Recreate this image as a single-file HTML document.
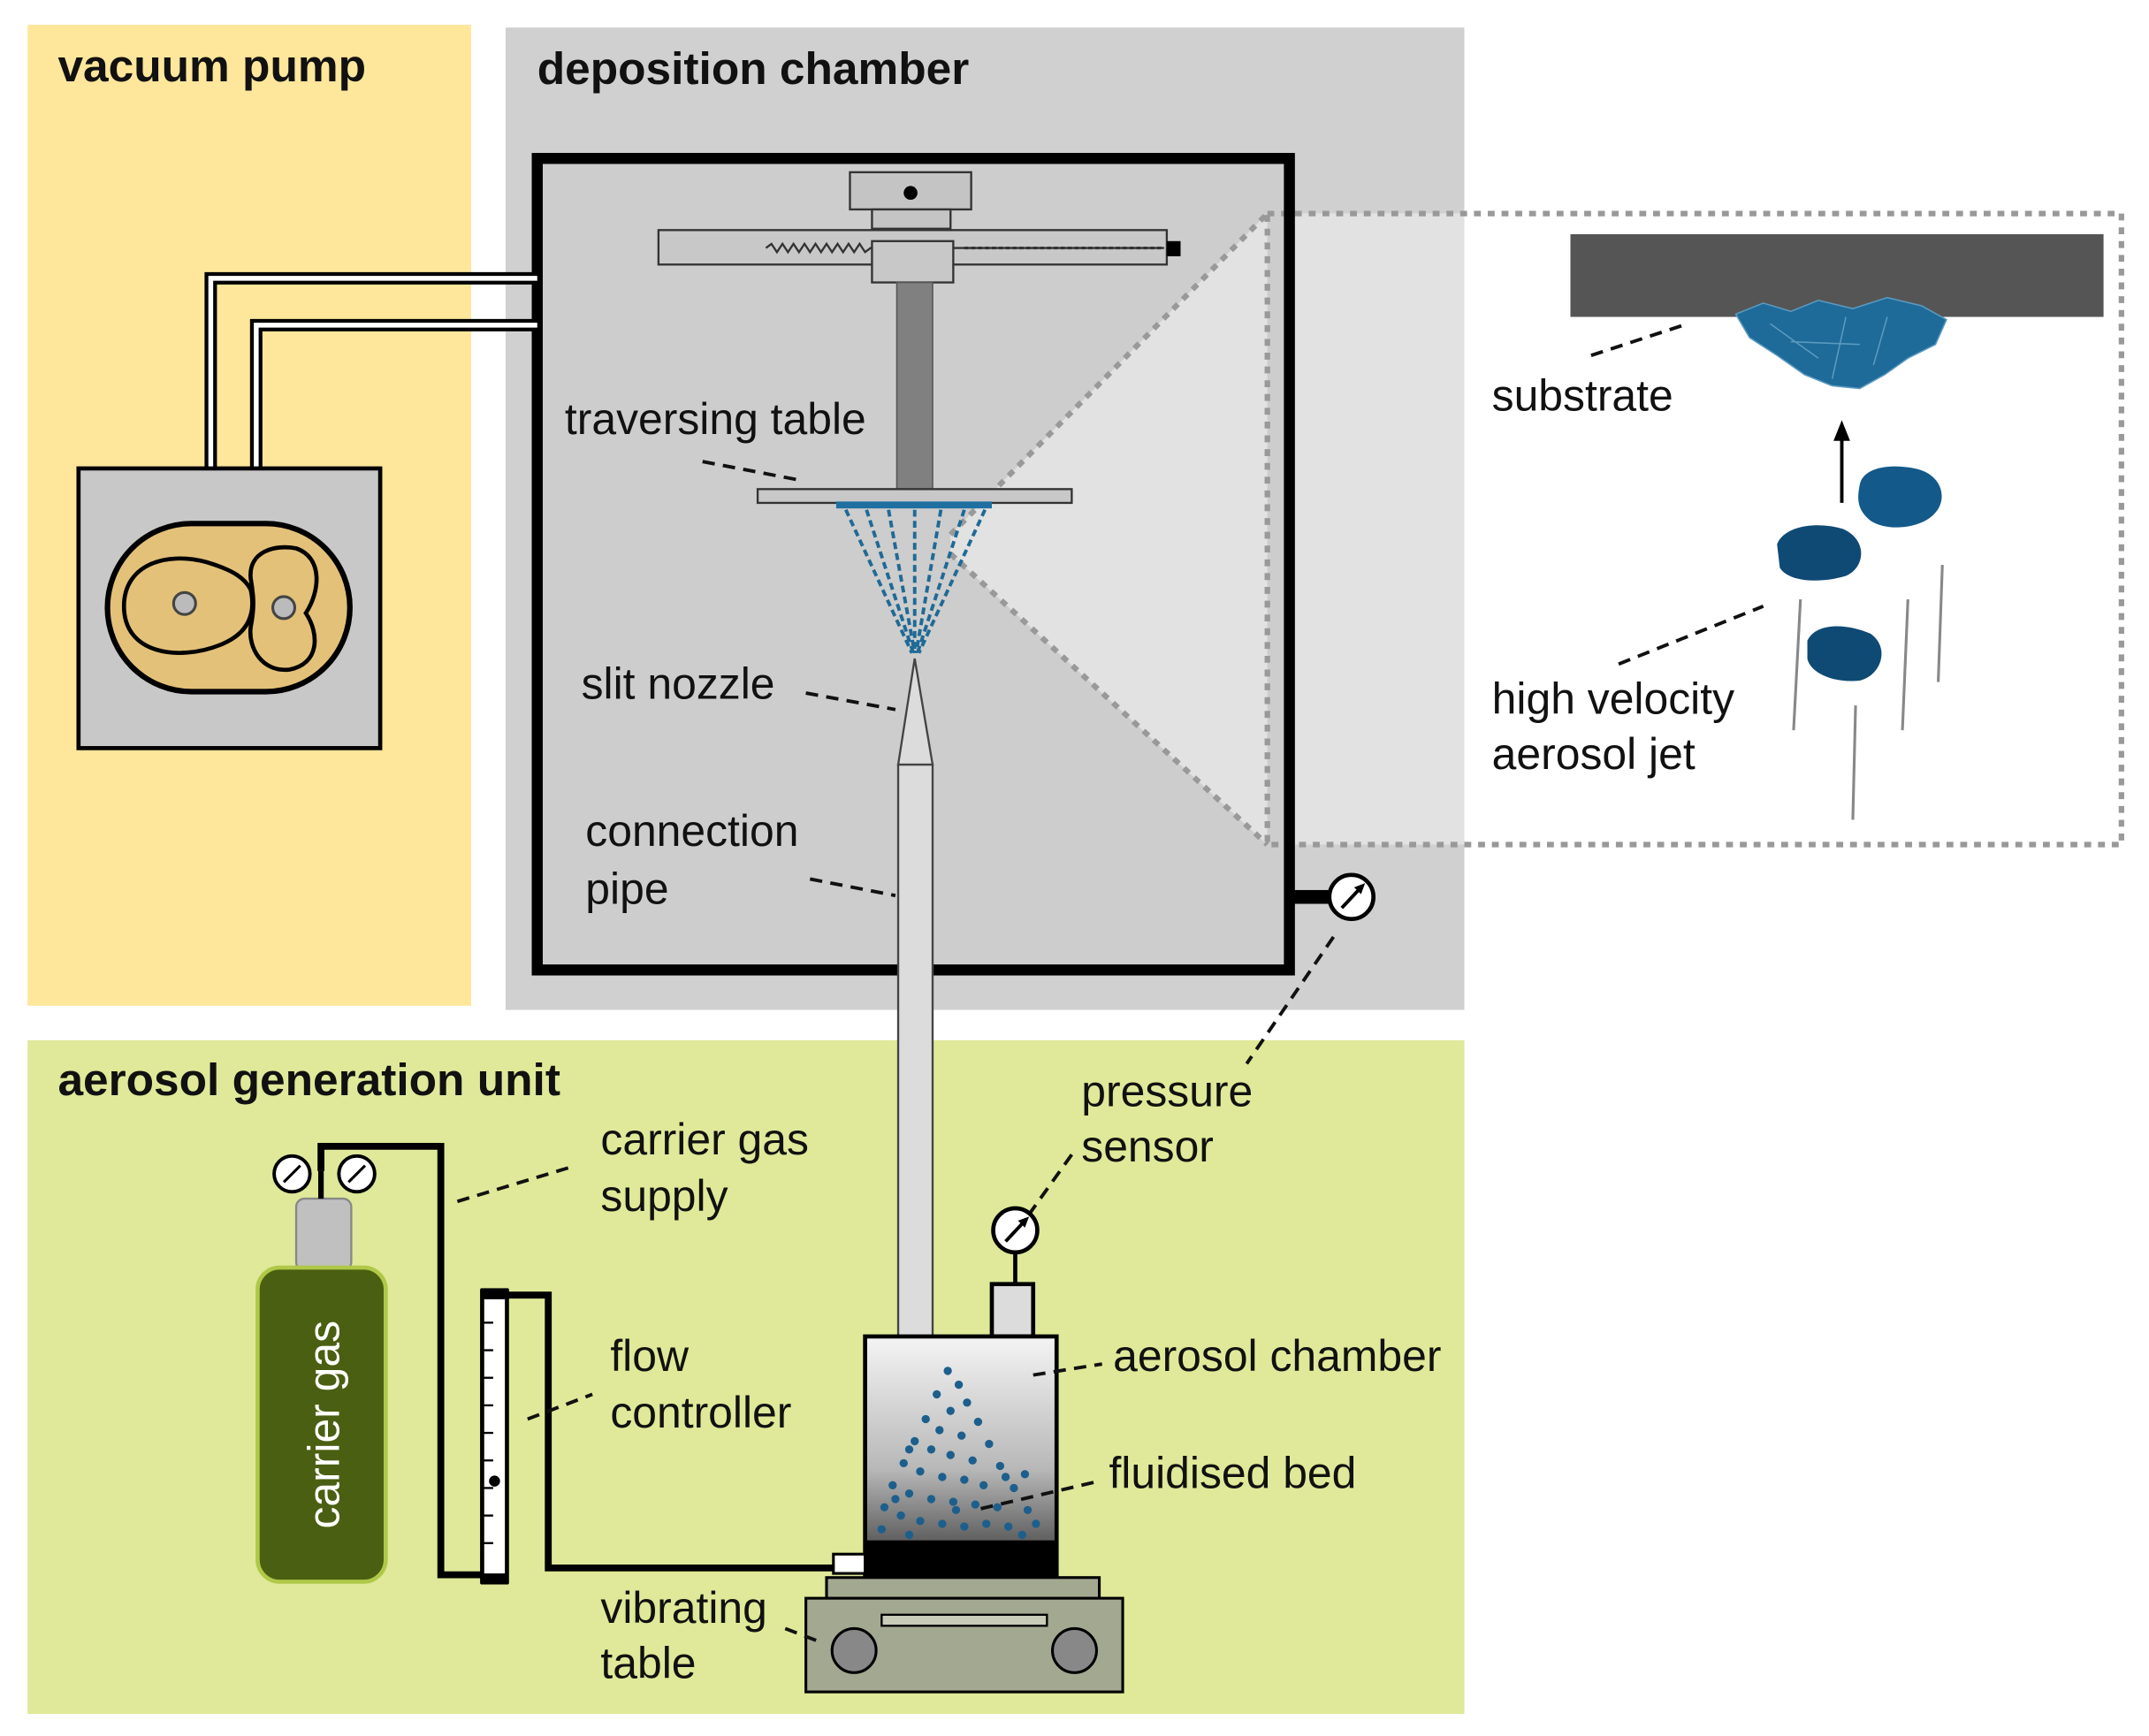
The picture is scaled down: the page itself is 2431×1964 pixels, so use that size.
<!DOCTYPE html>
<html><head><meta charset="utf-8"><style>
html,body{margin:0;padding:0;background:#fff}
svg{display:block}
text{font-family:"Liberation Sans",Arial,sans-serif;fill:#111}
.b{font-weight:bold;font-size:33px}
.l{font-size:32px}
.d{stroke:#111;stroke-width:2.5;stroke-dasharray:9 6;fill:none}
</style></head><body>
<svg width="2431" height="1964" viewBox="0 0 1560 1260" preserveAspectRatio="none" xmlns="http://www.w3.org/2000/svg">
<defs>
<linearGradient id="ac" x1="0" y1="0" x2="0" y2="1"><stop offset="0" stop-color="#f4f4f4"/><stop offset="0.55" stop-color="#b8b8b8"/><stop offset="1" stop-color="#333"/></linearGradient>
</defs>
<rect x="20" y="18" width="322" height="712" fill="#fee69b"/>
<rect x="367" y="20" width="696" height="713" fill="#d0d0d0"/>
<rect x="20" y="755" width="1043" height="489" fill="#dfe999"/>
<text x="42" y="59" class="b">vacuum pump</text>
<text x="390" y="61" class="b">deposition chamber</text>
<text x="42" y="795" class="b">aerosol generation unit</text>

<rect x="920" y="155" width="620" height="458" fill="#fff"/>
<rect x="920" y="155" width="143" height="458" fill="#e2e2e2"/>
<rect x="390" y="115" width="546" height="589" fill="#cdcdcd"/>
<polygon points="690,388 920,155 920,613 690,402" fill="#e2e2e2"/>
<path d="M690,388 L920,155 M690,402 L920,613" stroke="#999" stroke-width="4" stroke-dasharray="5 5"/>
<rect x="920" y="155" width="620" height="458" fill="none" stroke="#999" stroke-width="4" stroke-dasharray="5 5"/>
<rect x="390" y="115" width="546" height="589" fill="none" stroke="#000" stroke-width="8"/>

<rect x="617" y="125" width="88" height="27" fill="#c4c4c4" stroke="#333" stroke-width="1.5"/>
<circle cx="661" cy="140" r="5" fill="#000"/>
<rect x="633" y="152" width="57" height="14" fill="#c4c4c4" stroke="#333" stroke-width="1.5"/>
<rect x="478" y="167" width="369" height="25" fill="#c8c8c8" stroke="#333" stroke-width="1.5"/>
<path d="M556,180 l4,-3 l4,6 l4,-6 l4,6 l4,-6 l4,6 l4,-6 l4,6 l4,-6 l4,6 l4,-6 l4,6 l4,-6 l4,6 l4,-6 l4,6 l4,-6 l4,6 l4,-3 H845" stroke="#333" stroke-width="1.5" fill="none"/>
<line x1="700" y1="180" x2="845" y2="180" stroke="#333" stroke-width="2" stroke-dasharray="3 2"/>
<rect x="847" y="175" width="10" height="11" fill="#000"/>
<rect x="633" y="175" width="59" height="30" fill="#c8c8c8" stroke="#333" stroke-width="1.5"/>
<rect x="651" y="205" width="26" height="150" fill="#808080" stroke="#555" stroke-width="1"/>
<rect x="550" y="355" width="228" height="10" fill="#c8c8c8" stroke="#333" stroke-width="1.5"/>
<rect x="607" y="364" width="113" height="5" fill="#1f6fa0"/>
<g stroke="#1f6a96" stroke-width="2.5" stroke-dasharray="5 3">
<line x1="614" y1="370" x2="662" y2="474"/><line x1="629" y1="370" x2="663" y2="474"/><line x1="645" y1="370" x2="664" y2="474"/><line x1="664" y1="370" x2="664" y2="474"/><line x1="683" y1="370" x2="665" y2="474"/><line x1="700" y1="370" x2="666" y2="474"/><line x1="715" y1="370" x2="667" y2="474"/>
</g>
<text x="410" y="315" class="l">traversing table</text>
<line x1="510" y1="335" x2="578" y2="348" class="d"/>

<polygon points="664,478 652,555 677,555" fill="#dcdcdc" stroke="#444" stroke-width="1.5"/>
<rect x="652" y="555" width="25" height="415" fill="#dcdcdc" stroke="#444" stroke-width="1.5"/>
<text x="422" y="507" class="l">slit nozzle</text>
<line x1="585" y1="503" x2="650" y2="515" class="d"/>
<text x="425" y="614" class="l">connection</text>
<text x="425" y="656" class="l">pipe</text>
<line x1="588" y1="638" x2="650" y2="650" class="d"/>

<rect x="936" y="646" width="30" height="10" fill="#000"/>
<circle cx="981" cy="651" r="16" fill="#fff" stroke="#000" stroke-width="3"/>
<line x1="974" y1="659" x2="989" y2="643" stroke="#000" stroke-width="2.5"/>
<polygon points="991,641 983,644 988,649" fill="#000"/>
<line x1="968" y1="680" x2="905" y2="772" class="d"/>
<text x="785" y="803" class="l">pressure</text>
<text x="785" y="843" class="l">sensor</text>
<line x1="778" y1="838" x2="748" y2="880" class="d"/>

<path d="M153,340 V202 H390 M186,340 V236 H390" stroke="#000" stroke-width="9" fill="none"/>
<path d="M153,340 V202 H390 M186,340 V236 H390" stroke="#fff" stroke-width="3.5" fill="none"/>
<rect x="57" y="340" width="219" height="203" fill="#c8c8c8" stroke="#000" stroke-width="3"/>
<rect x="78" y="380" width="176" height="122" rx="61" fill="#e3c178" stroke="#000" stroke-width="4"/>
<path d="M90,440 C90,410 120,400 150,408 C170,414 178,420 182,428 C186,446 180,460 160,468 C130,480 90,475 90,440 Z" fill="#e3c178" stroke="#000" stroke-width="3"/>
<path d="M182,420 C180,400 200,395 215,398 C235,405 232,430 222,445 C232,460 232,482 210,486 C190,488 180,470 182,455 C185,440 184,432 182,420 Z" fill="#e3c178" stroke="#000" stroke-width="3"/>
<circle cx="134" cy="438" r="8" fill="#bbb" stroke="#444" stroke-width="2"/>
<circle cx="206" cy="441" r="8" fill="#bbb" stroke="#444" stroke-width="2"/>

<rect x="1140" y="170" width="387" height="60" fill="#555"/>
<path d="M1260,228 L1280,220 L1300,226 L1320,218 L1345,224 L1370,216 L1395,222 L1413,232 L1405,250 L1385,260 L1368,272 L1350,282 L1330,280 L1310,272 L1290,258 L1270,245 Z" fill="#1e6a99" stroke="#5a9ac0" stroke-width="1"/>
<path d="M1285,235 L1320,260 M1340,230 L1330,275 M1370,230 L1360,265 M1300,248 L1350,250" stroke="#5a9ac0" stroke-width="1"/>
<line x1="1337" y1="365" x2="1337" y2="318" stroke="#000" stroke-width="2.5"/>
<polygon points="1337,305 1331,320 1343,320" fill="#000"/>
<path d="M1350,352 C1352,340 1370,336 1390,340 C1410,344 1414,362 1405,372 C1395,384 1370,386 1358,378 C1348,370 1348,362 1350,352 Z" fill="#135a8a"/>
<path d="M1290,395 C1295,382 1318,378 1338,384 C1356,392 1354,412 1340,418 C1320,424 1298,422 1292,412 Z" fill="#0f4a74"/>
<path d="M1312,465 C1318,452 1340,452 1358,460 C1372,470 1366,490 1350,494 C1330,496 1314,488 1312,478 Z" fill="#0f4a74"/>
<g stroke="#888" stroke-width="2"><line x1="1307" y1="435" x2="1302" y2="530"/><line x1="1385" y1="435" x2="1381" y2="530"/><line x1="1410" y1="410" x2="1407" y2="495"/><line x1="1347" y1="512" x2="1345" y2="595"/></g>
<text x="1083" y="298" class="l">substrate</text>
<line x1="1155" y1="258" x2="1222" y2="236" class="d"/>
<text x="1083" y="518" class="l">high  velocity</text>
<text x="1083" y="558" class="l">aerosol jet</text>
<line x1="1175" y1="482" x2="1280" y2="440" class="d"/>

<rect x="720" y="932" width="30" height="38" fill="#dcdcdc" stroke="#000" stroke-width="3"/>
<line x1="737" y1="910" x2="737" y2="932" stroke="#000" stroke-width="3"/>
<circle cx="737" cy="893" r="16" fill="#fff" stroke="#000" stroke-width="3"/>
<line x1="730" y1="901" x2="745" y2="885" stroke="#000" stroke-width="2.5"/>
<polygon points="747,883 739,886 744,891" fill="#000"/>
<rect x="628" y="970" width="139" height="175" fill="url(#ac)" stroke="#000" stroke-width="3"/>
<rect x="628" y="1118" width="139" height="27" fill="#000"/>
<g fill="#1d5f8c">
<circle cx="688" cy="995" r="3"/><circle cx="696" cy="1005" r="3"/><circle cx="680" cy="1012" r="3"/><circle cx="702" cy="1018" r="3"/><circle cx="690" cy="1024" r="3"/><circle cx="672" cy="1030" r="3"/><circle cx="710" cy="1032" r="3"/><circle cx="682" cy="1038" r="3"/><circle cx="698" cy="1042" r="3"/><circle cx="664" cy="1046" r="3"/><circle cx="718" cy="1048" r="3"/><circle cx="676" cy="1052" r="3"/><circle cx="690" cy="1056" r="3"/><circle cx="706" cy="1060" r="3"/><circle cx="656" cy="1062" r="3"/><circle cx="726" cy="1064" r="3"/><circle cx="668" cy="1068" r="3"/><circle cx="684" cy="1072" r="3"/><circle cx="700" cy="1074" r="3"/><circle cx="714" cy="1078" r="3"/><circle cx="648" cy="1078" r="3"/><circle cx="736" cy="1080" r="3"/><circle cx="660" cy="1084" r="3"/><circle cx="676" cy="1088" r="3"/><circle cx="692" cy="1090" r="3"/><circle cx="708" cy="1092" r="3"/><circle cx="724" cy="1094" r="3"/><circle cx="642" cy="1094" r="3"/><circle cx="746" cy="1096" r="3"/><circle cx="654" cy="1100" r="3"/><circle cx="668" cy="1104" r="3"/><circle cx="684" cy="1106" r="3"/><circle cx="700" cy="1108" r="3"/><circle cx="716" cy="1106" r="3"/><circle cx="732" cy="1108" r="3"/><circle cx="752" cy="1106" r="3"/><circle cx="640" cy="1110" r="3"/><circle cx="660" cy="1114" r="3"/><circle cx="742" cy="1114" r="3"/><circle cx="694" cy="1096" r="3"/><circle cx="730" cy="1072" r="3"/><circle cx="660" cy="1052" r="3"/><circle cx="744" cy="1070" r="3"/><circle cx="650" cy="1088" r="3"/>
</g>
<text x="808" y="995" class="l">aerosol chamber</text>
<line x1="750" y1="998" x2="800" y2="990" class="d"/>
<text x="805" y="1080" class="l">fluidised  bed</text>
<line x1="712" y1="1095" x2="798" y2="1075" class="d"/>

<rect x="600" y="1145" width="198" height="17" fill="#a3a891" stroke="#000" stroke-width="2"/>
<rect x="585" y="1160" width="230" height="68" fill="#a3a891" stroke="#000" stroke-width="2"/>
<rect x="640" y="1172" width="120" height="8" fill="#c8ccb8" stroke="#000" stroke-width="1.5"/>
<circle cx="620" cy="1198" r="16" fill="#888" stroke="#000" stroke-width="2"/>
<circle cx="780" cy="1198" r="16" fill="#888" stroke="#000" stroke-width="2"/>
<text x="436" y="1178" class="l">vibrating</text>
<text x="436" y="1218" class="l">table</text>
<line x1="570" y1="1182" x2="596" y2="1192" class="d"/>

<path d="M233,850 V832 H320 V1143 H352 M368,940 H398 V1138 H605" stroke="#000" stroke-width="5" fill="none"/>
<rect x="605" y="1128" width="23" height="14" fill="#fff" stroke="#000" stroke-width="2"/>
<rect x="350" y="937" width="18" height="211" fill="#fff" stroke="#000" stroke-width="3"/>
<g stroke="#000" stroke-width="1.5"><line x1="350" y1="960" x2="358" y2="960"/><line x1="350" y1="980" x2="358" y2="980"/><line x1="350" y1="1000" x2="358" y2="1000"/><line x1="350" y1="1020" x2="358" y2="1020"/><line x1="350" y1="1040" x2="358" y2="1040"/><line x1="350" y1="1060" x2="358" y2="1060"/><line x1="350" y1="1080" x2="358" y2="1080"/><line x1="350" y1="1100" x2="358" y2="1100"/><line x1="350" y1="1120" x2="358" y2="1120"/></g>
<rect x="349" y="935" width="20" height="8" fill="#000"/><rect x="349" y="1142" width="20" height="8" fill="#000"/>
<circle cx="359" cy="1075" r="4" fill="#000"/>
<text x="443" y="995" class="l">flow</text>
<text x="443" y="1036" class="l">controller</text>
<line x1="383" y1="1030" x2="430" y2="1012" class="d"/>
<text x="436" y="838" class="l">carrier gas</text>
<text x="436" y="879" class="l">supply</text>
<line x1="332" y1="872" x2="418" y2="846" class="d"/>
<rect x="215" y="870" width="40" height="52" rx="6" fill="#c0c0c0" stroke="#888" stroke-width="1.5"/>
<line x1="233" y1="850" x2="233" y2="870" stroke="#000" stroke-width="4"/>
<circle cx="212" cy="852" r="13" fill="#fff" stroke="#000" stroke-width="2.5"/>
<line x1="206" y1="858" x2="218" y2="846" stroke="#000" stroke-width="2"/>
<circle cx="259" cy="852" r="13" fill="#fff" stroke="#000" stroke-width="2.5"/>
<line x1="253" y1="858" x2="265" y2="846" stroke="#000" stroke-width="2"/>
<rect x="187" y="920" width="93" height="228" rx="16" fill="#4b5f12" stroke="#b0c848" stroke-width="3"/>
<text x="0" y="0" transform="translate(246,1034) rotate(-90)" text-anchor="middle" style="font-size:32px;fill:#fff">carrier gas</text>
</svg>
</body></html>
